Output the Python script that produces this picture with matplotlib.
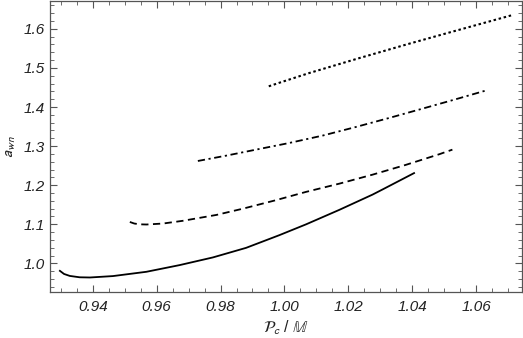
import matplotlib
matplotlib.use("Agg")
import matplotlib.pyplot as plt
from matplotlib.ticker import MultipleLocator, FormatStrFormatter

# Data
x_solid = [0.9297, 0.9310, 0.9328, 0.9359, 0.9391, 0.9463, 0.9568, 0.9672, 0.9776, 0.9880,
           0.9984, 1.0068, 1.0172, 1.0276, 1.0307, 1.0406]
y_solid = [0.981, 0.973, 0.968, 0.9645, 0.964, 0.9676, 0.9786, 0.9957, 1.0153, 1.0398,
           1.0722, 1.100, 1.137, 1.176, 1.189, 1.231]

x_dash = [0.9516, 0.9530, 0.9547, 0.9568, 0.9620, 0.9682, 0.9787, 0.9870, 0.9970, 1.0068,
          1.0172, 1.0276, 1.0380, 1.0484, 1.0526]
y_dash = [1.106, 1.102, 1.100, 1.0995, 1.102, 1.109, 1.124, 1.140, 1.161, 1.183,
          1.204, 1.227, 1.252, 1.279, 1.291]

x_dashdot = [0.9729, 0.9820, 0.9911, 1.0015, 1.0120, 1.0224, 1.0328, 1.0433, 1.0537, 1.0630]
y_dashdot = [1.262, 1.276, 1.291, 1.308, 1.327, 1.349, 1.372, 1.396, 1.420, 1.442]

x_dot = [0.9951, 0.9984, 1.0078, 1.0234, 1.0391, 1.0505, 1.0713]
y_dot = [1.453, 1.462, 1.487, 1.525, 1.562, 1.588, 1.635]

plt.rcParams['font.family'] = ['Liberation Sans', 'DejaVu Sans']
plt.rcParams['mathtext.fontset'] = 'stixsans'

fig = plt.figure(figsize=(5.23, 3.38), dpi=100)
ax = fig.add_axes([0.0956, 0.136, 0.9025, 0.862])

kw = dict(color='black', solid_joinstyle='round', dash_joinstyle='round')
ax.plot(x_solid, y_solid, lw=1.3, ls='-', **kw)
ax.plot(x_dash, y_dash, lw=1.3, ls=(0, (4, 2.5)), **kw)
ax.plot(x_dashdot, y_dashdot, lw=1.3, ls=(0, (4, 2, 1.2, 2)), **kw)
ax.plot(x_dot, y_dot, lw=1.5, ls=(0, (1.2, 1.3)), **kw)

ax.set_xlim(0.9266, 1.0744)
ax.set_ylim(0.9268, 1.672)

ax.xaxis.set_major_locator(MultipleLocator(0.02))
ax.xaxis.set_minor_locator(MultipleLocator(0.005))
ax.yaxis.set_major_locator(MultipleLocator(0.1))
ax.yaxis.set_minor_locator(MultipleLocator(0.02))
ax.xaxis.set_major_formatter(FormatStrFormatter('%.2f'))
ax.yaxis.set_major_formatter(FormatStrFormatter('%.1f'))

spine_col = '#555555'
for s in ax.spines.values():
    s.set_color(spine_col)
    s.set_linewidth(0.9)
ax.tick_params(which='both', direction='in', top=True, right=True, color=spine_col,
               labelsize=11, labelcolor='#222222')
ax.tick_params(which='major', length=5, width=0.8)
ax.tick_params(which='minor', length=3, width=0.6)
ax.tick_params(axis='x', pad=6)
for lbl in ax.get_xticklabels() + ax.get_yticklabels():
    lbl.set_fontstyle('italic')

ax.set_xlabel(r'$\mathcal{P}_c$ / $\mathbb{M}$', fontsize=11.5, color='#222222', labelpad=3)
ax.set_ylabel(r'$a_{wn}$', fontsize=11.5, color='#222222', labelpad=4)

fig.savefig('out.png', dpi=100)
